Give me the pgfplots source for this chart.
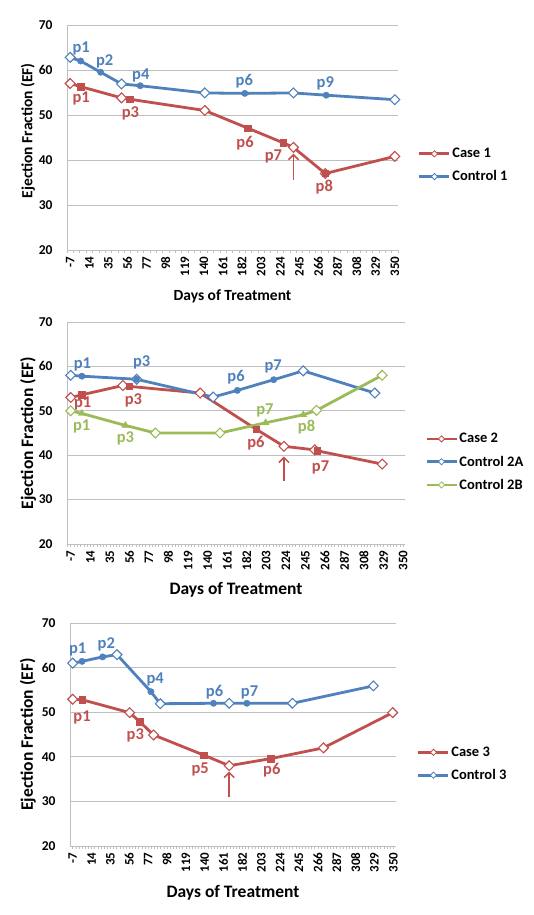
\documentclass[border=0pt]{standalone}
\usepackage{pgfplots}
\pgfplotsset{compat=1.18}
\usepackage{fontspec}
\setmainfont{Carlito}
\usetikzlibrary{arrows.meta}
\definecolor{cred}{HTML}{C0504D}
\definecolor{cblue}{HTML}{4F81BD}
\definecolor{cgreen}{HTML}{9BBB59}
\definecolor{gridc}{HTML}{BFBFBF}
\newcommand{\fs}[1]{\bfseries\fontsize{#1}{#1}\selectfont}
\tikzset{plab/.style={font=\fs{16.5}, text=#1, inner sep=0pt},
  parrow/.style={cred, line width=1.5pt, -{Straight Barb[length=5pt,width=10pt]}}}
\pgfplotsset{
  efaxis/.style={
    scale only axis, ymin=20, ymax=70, ytick={20,30,...,70},
    ymajorgrids, grid style={gridc, line width=0.8pt},
    axis x line*=bottom, axis y line*=left,
    axis line style={gridc, line width=0.8pt, -},
    xtick={-7,14,...,350},
    major x tick style={draw=none}, major y tick style={draw=none},
    minor x tick style={gridc, line width=0.5pt},
    minor tick length=3pt, tick align=outside,
    xticklabel style={rotate=90, anchor=east, font=\fs{13}, inner sep=2pt},
    yticklabel style={font=\fs{13.5}, inner sep=2pt, xshift=-8pt},
    /pgf/number format/assume math mode=true,
    clip=false,
    legend style={draw=none, fill=none, anchor=west, inner sep=0pt, font=\fs{14.5}, row sep=8.5pt,
      nodes={inner sep=1.5pt}},
    legend cell align=left,
    legend image code/.code={\draw[mark repeat=2,mark phase=2,##1] plot coordinates {(0pt,0pt) (15pt,0pt) (30pt,0pt)};},
    ylabel={Ejection Fraction (EF)}, xlabel={Days of Treatment},
  },
  sline/.style={#1, line width=2.8pt, mark=none, forget plot},
  dmk/.style={only marks, mark=square*, mark size=3.5pt, mark options={rotate=45, fill=white, draw=#1, line width=1.1pt}, forget plot},
  sqm/.style={only marks, mark=square*, mark size=3.2pt, mark options={fill=#1, draw=#1}, forget plot},
  cim/.style={only marks, mark=*, mark size=3.2pt, mark options={fill=#1, draw=#1}, forget plot},
  trm/.style={only marks, mark=triangle*, mark size=4pt, mark options={fill=#1, draw=#1}, forget plot},
  lgimg/.style={#1, line width=2.8pt, mark=square*, mark size=2.2pt, mark options={rotate=45, fill=white, draw=#1, line width=0.8pt}},
}
\begin{document}
\begin{tikzpicture}
\useasboundingbox (0,0) rectangle (533pt,915pt);
% ---------------- Panel 1 ----------------
\begin{axis}[efaxis, at={(67pt,665pt)}, anchor=south west, width=331pt, height=225pt,
  xmin=-10.5, xmax=353.5, minor xtick={-10.5,-3.5,...,354},
  ylabel style={at={(axis description cs:-0.118,0.53)}, anchor=center, font=\fs{15.5}},
  xlabel style={at={(axis description cs:0.5,-0.204)}, anchor=center, font=\fs{15.5}},
  legend style={at={(axis description cs:1.06,0.376)}}]
\addplot[sline=cred] coordinates {(-7,57)(4.5,56.3)(49.5,53.8)(58.5,53.5)(141,51)(188,47.1)(227.5,43.8)(238.5,42.8)(273.5,37)(350,40.8)};
\addplot[sline=cblue] coordinates {(-7,62.8)(4.5,62)(26.5,59.5)(49.5,56.9)(70,56.5)(141,54.9)(185,54.8)(238.5,54.9)(274.5,54.4)(350,53.4)};
\addplot[dmk=cred] coordinates {(-7,57)(49.5,53.8)(141,51)(238.5,42.8)(273.5,37)(350,40.8)};
\addplot[sqm=cred] coordinates {(4.5,56.3)(58.5,53.5)(188,47.1)(227.5,43.8)(273.5,37)};
\addplot[dmk=cblue] coordinates {(-7,62.8)(49.5,56.9)(141,54.9)(238.5,54.9)(350,53.4)};
\addplot[cim=cblue] coordinates {(4.5,62)(26.5,59.5)(70,56.5)(185,54.8)(274.5,54.4)};
\addlegendimage{lgimg=cred}\addlegendentry{Case 1}
\addlegendimage{lgimg=cblue}\addlegendentry{Control 1}
\node[plab=cblue] at (axis cs:5.1,64.8) {p1};
\node[plab=cblue] at (axis cs:30.9,62.0) {p2};
\node[plab=cblue] at (axis cs:70.6,58.7) {p4};
\node[plab=cblue] at (axis cs:184.5,57.5) {p6};
\node[plab=cblue] at (axis cs:273.5,57.1) {p9};
\node[plab=cred] at (axis cs:5.1,53.6) {p1};
\node[plab=cred] at (axis cs:59.2,50.4) {p3};
\node[plab=cred] at (axis cs:185.3,43.8) {p6};
\node[plab=cred] at (axis cs:216.5,40.8) {p7};
\node[plab=cred] at (axis cs:272.4,34.0) {p8};
\draw[parrow] (axis cs:238.6,35.6) -- (axis cs:238.6,41.4);
\end{axis}
% ---------------- Panel 2 ----------------
\begin{axis}[efaxis, at={(67pt,371pt)}, anchor=south west, width=338pt, height=222pt,
  xmin=-11, xmax=352, minor xtick={-10.5,-7,...,352},
  ylabel style={at={(axis description cs:-0.115,0.5)}, anchor=center, font=\fs{17.5}},
  xlabel style={at={(axis description cs:0.5,-0.207)}, anchor=center, font=\fs{17.5}},
  legend style={at={(axis description cs:1.059,0.369)}}]
\addplot[sline=cred] coordinates {(-7,53)(5,53.6)(49,55.7)(56,55.5)(132,54)(192.5,45.8)(222,42)(255,41.2)(257.5,41)(327.5,38)};
\addplot[sline=cblue] coordinates {(-7,58)(5,57.8)(63.8,57.1)(146,53.1)(172,54.6)(211,57)(242.7,59)(319.6,54)};
\addplot[sline=cgreen] coordinates {(-7,50)(5,49.4)(51.7,46.7)(84,45)(153.3,45)(202.3,47.3)(242.7,49.1)(257,50.1)(327.5,58)};
\addplot[dmk=cred] coordinates {(-7,53)(49,55.7)(132,54)(222,42)(255,41.2)(327.5,38)};
\addplot[sqm=cred] coordinates {(5,53.6)(56,55.5)(192.5,45.8)(257.5,41)};
\addplot[dmk=cblue] coordinates {(-7,58)(63.8,57.1)(146,53.1)(242.7,59)(319.6,54)};
\addplot[cim=cblue] coordinates {(5,57.8)(63.8,57.1)(172,54.6)(211,57)};
\addplot[dmk=cgreen] coordinates {(-7,50)(84,45)(153.3,45)(257,50.1)(327.5,58)};
\addplot[trm=cgreen] coordinates {(5,49.4)(51.7,46.7)(202.3,47.3)(242.7,49.1)};
\addlegendimage{lgimg=cred}\addlegendentry{Case 2}
\addlegendimage{lgimg=cblue}\addlegendentry{Control 2A}
\addlegendimage{lgimg=cgreen}\addlegendentry{Control 2B}
\node[plab=cblue] at (axis cs:5.5,60.4) {p1};
\node[plab=cblue] at (axis cs:69.2,60.8) {p3};
\node[plab=cblue] at (axis cs:170.5,57.5) {p6};
\node[plab=cblue] at (axis cs:210.5,60.0) {p7};
\node[plab=cred] at (axis cs:5.9,51.6) {p1};
\node[plab=cred] at (axis cs:60.3,52.4) {p3};
\node[plab=cred] at (axis cs:191.9,42.7) {p6};
\node[plab=cred] at (axis cs:261.3,37.2) {p7};
\node[plab=cgreen] at (axis cs:4.8,46.4) {p1};
\node[plab=cgreen] at (axis cs:51.7,43.7) {p3};
\node[plab=cgreen] at (axis cs:201.6,50.1) {p7};
\node[plab=cgreen] at (axis cs:246.3,46.4) {p8};
\draw[parrow] (axis cs:222,34.3) -- (axis cs:222,39.7);
\end{axis}
% ---------------- Panel 3 ----------------
\begin{axis}[efaxis, at={(70pt,69pt)}, anchor=south west, width=326pt, height=223pt,
  xmin=-10, xmax=353, minor xtick={-10.5,-7,...,353},
  ylabel style={at={(axis description cs:-0.129,0.5)}, anchor=center, font=\fs{17.5}},
  xlabel style={at={(axis description cs:0.5,-0.211)}, anchor=center, font=\fs{17.5}},
  legend style={at={(axis description cs:1.064,0.368)}}]
\addplot[sline=cred] coordinates {(-7,52.9)(3.4,52.8)(56.4,49.9)(67.5,47.9)(83.1,44.9)(138.7,40.4)(167.3,38)(213.6,39.6)(272.2,42)(349.3,49.9)};
\addplot[sline=cblue] coordinates {(-7,61)(3.4,61.4)(26.4,62.4)(42.3,62.9)(80.1,54.6)(90.5,51.9)(149.8,52)(167.3,52)(186.9,52)(237.7,52)(327.8,55.9)};
\addplot[dmk=cred] coordinates {(-7,52.9)(56.4,49.9)(83.1,44.9)(167.3,38)(272.2,42)(349.3,49.9)};
\addplot[sqm=cred] coordinates {(3.4,52.8)(67.5,47.9)(138.7,40.4)(213.6,39.6)};
\addplot[dmk=cblue] coordinates {(-7,61)(42.3,62.9)(90.5,51.9)(167.3,52)(237.7,52)(327.8,55.9)};
\addplot[cim=cblue] coordinates {(3.4,61.4)(26.4,62.4)(80.1,54.6)(149.8,52)(186.9,52)};
\addlegendimage{lgimg=cred}\addlegendentry{Case 3}
\addlegendimage{lgimg=cblue}\addlegendentry{Control 3}
\node[plab=cblue] at (axis cs:-1.4,64.0) {p1};
\node[plab=cblue] at (axis cs:30.4,65.1) {p2};
\node[plab=cblue] at (axis cs:84.9,57.4) {p4};
\node[plab=cblue] at (axis cs:151,54.4) {p6};
\node[plab=cblue] at (axis cs:189.9,54.4) {p7};
\node[plab=cred] at (axis cs:3.4,48.9) {p1};
\node[plab=cred] at (axis cs:62.7,44.9) {p3};
\node[plab=cred] at (axis cs:135,37.2) {p5};
\node[plab=cred] at (axis cs:214.7,37.0) {p6};
\draw[parrow] (axis cs:167.3,31.0) -- (axis cs:167.3,36.7);
\end{axis}
\end{tikzpicture}
\end{document}
